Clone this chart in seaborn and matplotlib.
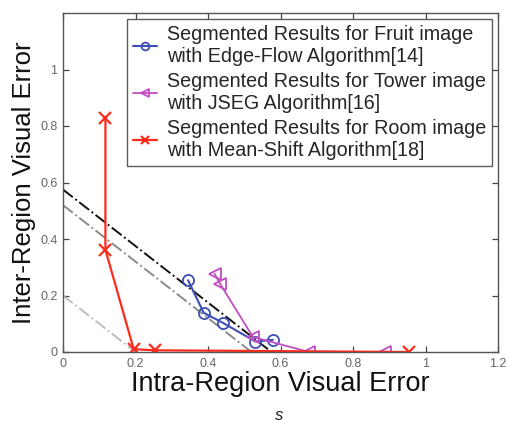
import matplotlib
matplotlib.use("Agg")
import matplotlib.pyplot as plt
import seaborn as sns
import numpy as np

sns.set_theme(style="white")
plt.rcParams['font.family'] = ['Liberation Sans', 'DejaVu Sans']

# Data
fruit_x = [0.345, 0.388, 0.44, 0.531, 0.579]
fruit_y = [0.254, 0.139, 0.104, 0.037, 0.043]
tower_x = [0.418, 0.434, 0.524, 0.679, 0.887]
tower_y = [0.277, 0.240, 0.053, 0.0, 0.0]
room_x = [0.117, 0.117, 0.195, 0.254, 0.954]
room_y = [0.83, 0.362, 0.010, 0.006, 0.0]
iso_levels = [0.575, 0.52, 0.2]
iso_colors = ['#111111', '#8a8a8a', '#bdbdbd']

labels = ["Segmented Results for Fruit image\nwith Edge-Flow Algorithm[14]",
          "Segmented Results for Tower image\nwith JSEG Algorithm[16]",
          "Segmented Results for Room image\nwith Mean-Shift Algorithm[18]"]
xticks = [0, 0.2, 0.4, 0.6, 0.8, 1, 1.2]
yticks = [0, 0.2, 0.4, 0.6, 0.8, 1]

fig = plt.figure(figsize=(5.07, 4.21), dpi=100)
ax = fig.add_axes([63/507, 1-352/421, (498-63)/507, (352-13)/421])

for lvl, c in zip(iso_levels, iso_colors):
    sns.lineplot(x=[0, lvl], y=[lvl, 0], ax=ax, color=c, linestyle='-.',
                 linewidth=1.4, estimator=None)

blue = '#3d4fb5'
mag = '#c04ec4'
red = '#ff2a1a'
sns.lineplot(x=fruit_x, y=fruit_y, sort=False, estimator=None, ax=ax, color=blue, marker='o',
             markerfacecolor='none', markeredgecolor=blue, markersize=8,
             markeredgewidth=1.3, linewidth=1.5, label=labels[0])
sns.lineplot(x=tower_x, y=tower_y, sort=False, estimator=None, ax=ax, color=mag, marker='<',
             markerfacecolor='none', markeredgecolor=mag, markersize=9,
             markeredgewidth=1.3, linewidth=1.3, label=labels[1])
sns.lineplot(x=room_x, y=room_y, sort=False, estimator=None, ax=ax, color=red, marker='x',
             markeredgecolor=red, markersize=9, markeredgewidth=1.6,
             linewidth=1.6, label=labels[2])

ax.set_xlim(0, 1.2)
ax.set_ylim(0, 1.2)
ax.set_xticks(xticks)
ax.set_xticklabels(['0', '0.2', '0.4', '0.6', '0.8', '1', '1.2'])
ax.set_yticks(yticks)
ax.set_yticklabels(['0', '0.2', '0.4', '0.6', '0.8', '1'])
ax.tick_params(direction='in', length=4, width=0.9, color='#444444',
               labelsize=9, labelcolor='#666666', top=True, right=True,
               bottom=True, left=True, pad=4)
for s in ax.spines.values():
    s.set_color('#555555')
    s.set_linewidth(1.0)

ax.set_xlabel("Intra-Region Visual Error", fontsize=19.5, color='#111111', labelpad=1)
ax.set_ylabel("Inter-Region Visual Error", fontsize=18.5, color='#111111', labelpad=3)

leg = ax.legend(loc='upper right', fontsize=14.2, handlelength=1.2, handletextpad=0.5,
                borderpad=0.3, labelspacing=0.3, frameon=True, fancybox=False,
                borderaxespad=0.3, markerscale=0.7)
leg.get_frame().set_edgecolor('#333333')
leg.get_frame().set_linewidth(1.0)

fig.text(279/507, 1-415/421, "s", fontsize=12, style='italic', ha='center', va='center', color='#222222')

fig.savefig("out.png", dpi=100, facecolor='white')
